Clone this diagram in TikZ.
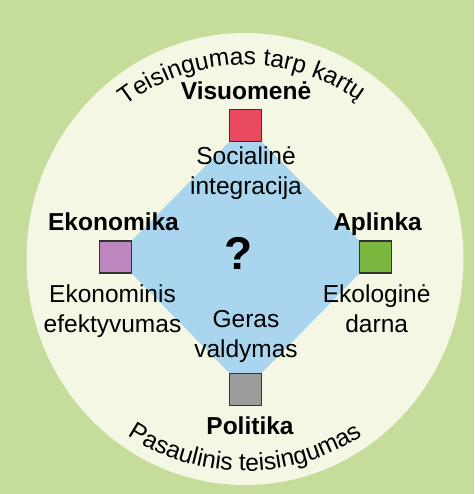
\documentclass[tikz,border=0pt]{standalone}
\usepackage{fontspec}
\setmainfont{Liberation Sans}
\usetikzlibrary{decorations.text}

\definecolor{bggreen}{HTML}{C5DC9A}
\definecolor{discream}{HTML}{F3F7E4}
\definecolor{diamondblue}{HTML}{A9D5EF}
\definecolor{socred}{HTML}{E84A5F}
\definecolor{ecopurple}{HTML}{BC86BE}
\definecolor{envgreen}{HTML}{7CB83F}
\definecolor{polgray}{HTML}{9B9B9B}

\newcommand\arcfont{\fontsize{24.5}{30}\selectfont}

\tikzset{
	pillar/.style={draw=black!80, line width=1.4pt, minimum size=32pt, inner sep=0pt},
	head/.style={font=\arcfont\bfseries, anchor=base, inner sep=0pt},
	goal/.style={font=\arcfont, align=center, anchor=base, inner sep=0pt},
}

\begin{document}
\begin{tikzpicture}[x=1pt, y=1pt]
		%%%%% START %%%%%
		
		\useasboundingbox (0, 0) rectangle (474, 494);
		\fill[bggreen] (0, 0) rectangle (474, 494);
		\fill[discream] (245, 235) ellipse (218.5 and 226);
		
		\coordinate (c) at (245, 235);
		\coordinate (top) at (245.5, 368.5);
		\coordinate (left) at (115.5, 237);
		\coordinate (right) at (375.5, 237);
		\coordinate (bottom) at (245.5, 104.5);
		
		\fill[diamondblue, rounded corners=4pt] (top) -- (left) -- (bottom) -- (right) -- cycle;
		
		\node[pillar, fill=socred] (visuomene) at (top) {};
		\node[pillar, fill=ecopurple] (ekonomika) at (left) {};
		\node[pillar, fill=envgreen] (aplinka) at (right) {};
		\node[pillar, fill=polgray] (politika) at (bottom) {};
		
		\node[head] (visuomenelbl) at (246, 394) {Visuomenė};
		\node[head] (ekonomikalbl) at (113.5, 263) {Ekonomika};
		\node[head] (aplinkalbl) at (377.5, 263) {Aplinka};
		\node[head] (politikalbl) at (250, 59) {Politika};
		
		% base = last line
		\node[goal] (soc) at (246, 299) {Socialinė\\integracija};
		\node[goal] (efekt) at (112.5, 161) {Ekonominis\\efektyvumas};
		\node[goal] (darna) at (376.7, 161) {Ekologinė\\darna};
		\node[goal] (valdymas) at (246, 136) {Geras\\valdymas};
		
		\node[font=\fontsize{46}{50}\selectfont\bfseries] (klaus) at (239, 240.5) {?};
		
		%% arc texts
		\path[decorate, decoration={text along path, text align=center,
			text={|\arcfont|Teisingumas tarp kartų}}]
			(c) ++(151:194) arc (151:31:194);
		\path[decorate, decoration={text along path, text align=center,
			text={|\arcfont|Pasaulinis teisingumas}}]
			(c) ++(210:212) arc (210:330:212);
		
		%%%%% END %%%%%
	\end{tikzpicture}
\end{document}
